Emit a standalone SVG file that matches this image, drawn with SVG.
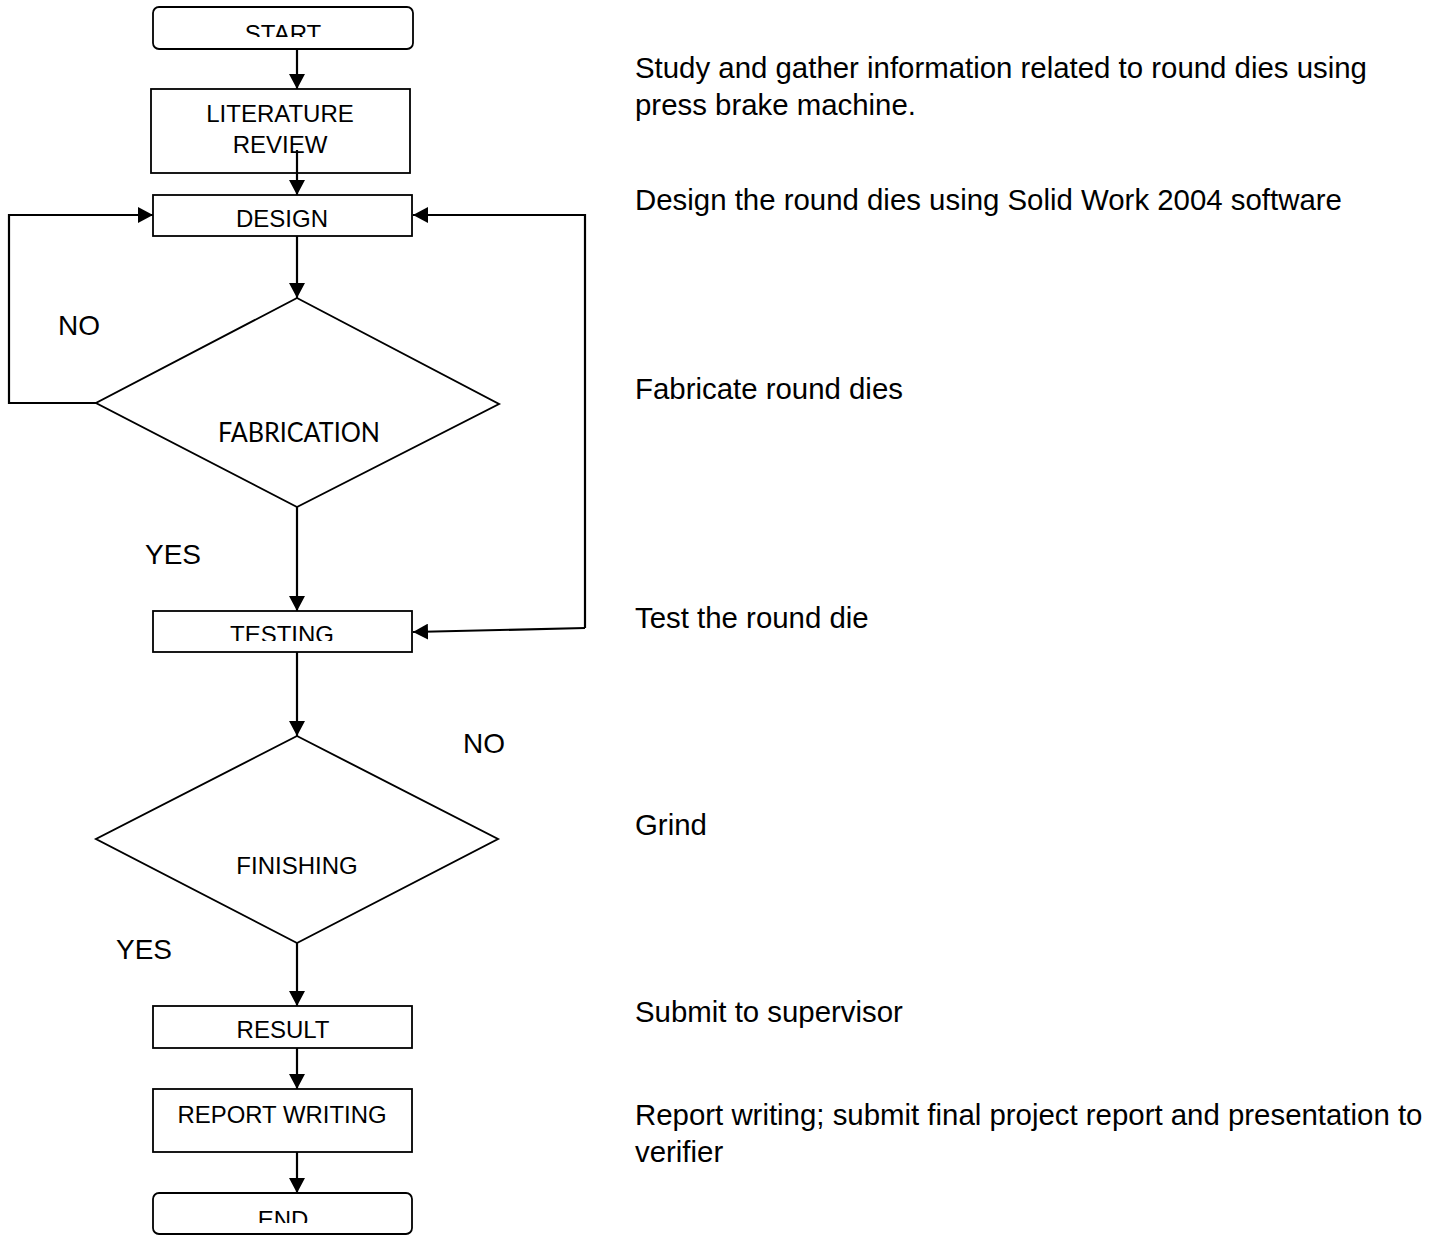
<svg xmlns="http://www.w3.org/2000/svg" width="1442" height="1237" viewBox="0 0 1442 1237">
<style>
.box{fill:#fff;stroke:#000;stroke-width:1.8}
.dia{fill:#fff;stroke:#000;stroke-width:1.9}
.lbl{font-family:"Liberation Sans",Arial,sans-serif;font-size:24px;fill:#000;text-anchor:middle}
.side{font-family:"Liberation Sans",Arial,sans-serif;font-size:29.4px;fill:#000}
.yn{font-family:"Liberation Sans",Arial,sans-serif;font-size:28px;fill:#000}
.con{fill:none;stroke:#000;stroke-width:2.2}
</style>
<defs>
<marker id="ah" viewBox="0 0 15 16" refX="15" refY="8" markerWidth="15" markerHeight="16" markerUnits="userSpaceOnUse" orient="auto">
<path d="M0,0 L15,8 L0,16 Z" fill="#000"/>
</marker>
<clipPath id="cStart"><rect x="150" y="0" width="270" height="37"/></clipPath>
<clipPath id="cTest"><rect x="150" y="600" width="270" height="41"/></clipPath>
<clipPath id="cEnd"><rect x="150" y="1190" width="270" height="33"/></clipPath>
</defs>
<rect width="1442" height="1237" fill="#fff"/>

<g id="n-start">
<rect class="box" x="153" y="7" width="260" height="42" rx="6"/>
<text class="lbl" x="283" y="42" clip-path="url(#cStart)">START</text>
</g>
<g id="n-literature">
<rect class="box" x="151" y="89" width="259" height="84"/>
<text class="lbl" x="280" y="122">LITERATURE</text>
<text class="lbl" x="280" y="153">REVIEW</text>
</g>
<g id="n-design">
<rect class="box" x="153" y="195" width="259" height="41"/>
<text class="lbl" x="282" y="227">DESIGN</text>
</g>
<g id="n-fabrication">
<polygon class="dia" points="297,298 499,404 297,507 96,403"/>
<text x="299" y="442" text-anchor="middle" font-family="Lato,'Open Sans',sans-serif" font-size="26" textLength="162" lengthAdjust="spacingAndGlyphs">FABRICATION</text>
</g>
<g id="n-testing">
<rect class="box" x="153" y="611" width="259" height="41"/>
<text class="lbl" x="282" y="643" clip-path="url(#cTest)">TESTING</text>
</g>
<g id="n-finishing">
<polygon class="dia" points="297,736 498,839 297,943 96,839"/>
<text class="lbl" x="297" y="874">FINISHING</text>
</g>
<g id="n-result">
<rect class="box" x="153" y="1006" width="259" height="42"/>
<text class="lbl" x="283" y="1038">RESULT</text>
</g>
<g id="n-report">
<rect class="box" x="153" y="1089" width="259" height="63"/>
<text class="lbl" x="282" y="1123" textLength="209" lengthAdjust="spacingAndGlyphs">REPORT WRITING</text>
</g>
<g id="n-end">
<rect class="box" x="153" y="1193" width="259" height="41" rx="6"/>
<text class="lbl" x="283" y="1228" clip-path="url(#cEnd)">END</text>
</g>

<g id="connectors">
<line class="con" x1="297" y1="49" x2="297" y2="89" marker-end="url(#ah)"/>
<line class="con" x1="297" y1="150" x2="297" y2="195" marker-end="url(#ah)"/>
<line class="con" x1="297" y1="236" x2="297" y2="298" marker-end="url(#ah)"/>
<polyline class="con" points="96,403 9,403 9,215 153,215" marker-end="url(#ah)"/>
<line class="con" x1="297" y1="507" x2="297" y2="611" marker-end="url(#ah)"/>
<polyline class="con" points="585,628 585,215 413,215" marker-end="url(#ah)"/>
<line class="con" x1="297" y1="652" x2="297" y2="736" marker-end="url(#ah)"/>
<line class="con" x1="297" y1="943" x2="297" y2="1006" marker-end="url(#ah)"/>
<line class="con" x1="297" y1="1048" x2="297" y2="1089" marker-end="url(#ah)"/>
<line class="con" x1="297" y1="1152" x2="297" y2="1193" marker-end="url(#ah)"/>
<line class="con" x1="585" y1="628" x2="413" y2="632" marker-end="url(#ah)"/>
</g>

<g id="labels">
<text class="yn" x="58" y="335">NO</text>
<text class="yn" x="145" y="564">YES</text>
<text class="yn" x="463" y="753">NO</text>
<text class="yn" x="116" y="959">YES</text>
</g>

<g id="notes">
<text class="side" x="635" y="78">Study and gather information related to round dies using</text>
<text class="side" x="635" y="115">press brake machine.</text>
<text class="side" x="635" y="210">Design the round dies using Solid Work 2004 software</text>
<text class="side" x="635" y="399">Fabricate round dies</text>
<text class="side" x="635" y="628">Test the round die</text>
<text class="side" x="635" y="835">Grind</text>
<text class="side" x="635" y="1022">Submit to supervisor</text>
<text class="side" x="635" y="1125">Report writing; submit final project report and presentation to</text>
<text class="side" x="635" y="1162">verifier</text>
</g>
</svg>
